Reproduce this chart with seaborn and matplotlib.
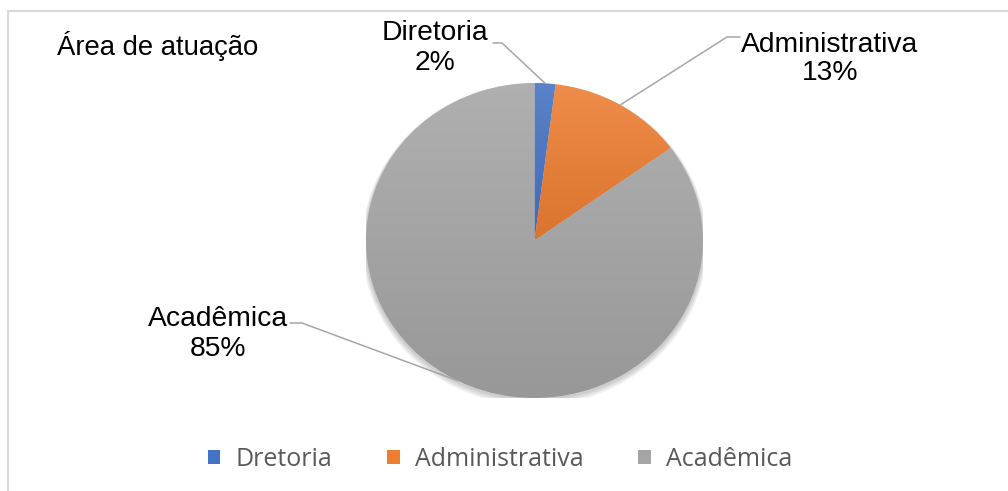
import numpy as np
import matplotlib
matplotlib.use("Agg")
import matplotlib.pyplot as plt
import seaborn as sns
from matplotlib.lines import Line2D
from matplotlib.patches import Patch, Ellipse
from matplotlib.colors import to_rgb

sns.set_theme(style="white")
plt.rcParams['font.family'] = ['Liberation Sans', 'DejaVu Sans']

# ---- data ----
title = "Área de atuação"
categories = ["Diretoria", "Administrativa", "Acadêmica"]
legend_labels = ["Dretoria", "Administrativa", "Acadêmica"]
values = [2, 13, 85]
colors = ["#4472C4", "#ED7D31", "#A5A5A5"]

W, H = 1008, 491
fig = plt.figure(figsize=(W / 100, H / 100), dpi=100)
fig.patch.set_facecolor("white")

# pie axes placed in pixel box
cx, cy, rx, ry = 534.5, 240.5, 168.5, 157.5
ax = fig.add_axes([(cx - rx) / W, (H - cy - ry) / H, 2 * rx / W, 2 * ry / H])

# soft shadow
for i, a in enumerate([0.05, 0.05, 0.05, 0.05]):
    s = 1.0 + 0.006 * (i + 1)
    ax.add_patch(Ellipse((0.0, -0.012 - 0.004 * i), 2 * s, 2 * s, facecolor="black",
                         edgecolor="none", alpha=a, zorder=0))

wedges, _ = ax.pie(values, colors=colors, startangle=90, counterclock=False,
                   radius=1.0, wedgeprops=dict(linewidth=0, edgecolor="none"))
ax.set_aspect("auto")
ax.set_xlim(-1, 1)
ax.set_ylim(-1, 1)
ax.axis("off")

# gradient fill per slice (lighter at top, darker at bottom)
for w, c in zip(wedges, colors):
    base = np.array(to_rgb(c))
    light = base + (1 - base) * 0.12
    dark = base * 0.92
    verts = w.get_path().vertices
    x0, y0 = verts.min(axis=0)
    x1, y1 = verts.max(axis=0)
    t = np.linspace(0, 1, 256)[:, None]
    grad = light[None, :] * (1 - t) + dark[None, :] * t
    img = ax.imshow(grad[:, None, :], extent=(x0, x1, y0, y1), origin="upper",
                    aspect="auto", zorder=2, interpolation="bilinear")
    img.set_clip_path(w)
    w.set_facecolor("none")
ax.set_xlim(-1, 1)
ax.set_ylim(-1, 1)

# frame lines
fig.add_artist(Line2D([8 / W, 1], [1 - 11 / H, 1 - 11 / H], color="#d9d9d9", lw=1.5,
                      transform=fig.transFigure))
fig.add_artist(Line2D([8 / W, 8 / W], [0, 1 - 11 / H], color="#d9d9d9", lw=1.5,
                      transform=fig.transFigure))

fig.text(57 / W, 1 - 46 / H, title, fontsize=19.8, ha="left", va="center", color="black")

# data labels with leader lines
fracs = np.array(values) / np.sum(values)
starts = 90 - 360 * np.concatenate([[0], np.cumsum(fracs)[:-1]])
mids = starts - 360 * fracs / 2

label_pos = [(435, 48), (830, 59), (218, 334)]      # label center (pixels from top)
elbows = [((493, 43), (502, 43)), ((740, 37), (727, 37)), ((290, 323), (302, 323))]
for cat, v, m, (lx, ly), (e1, e2) in zip(categories, values, mids, label_pos, elbows):
    fig.text(lx / W, 1 - ly / H, f"{cat}\n{v}%", fontsize=20.3, ha="center", va="center",
             linespacing=1.15, color="black")
    px, py = ax.transData.transform((np.cos(np.radians(m)), np.sin(np.radians(m))))
    xs = [e1[0], e2[0], px]
    ys = [H - e1[1], H - e2[1], py]
    fig.add_artist(Line2D(xs, ys, color="#a6a6a6", lw=1.1, transform=None, zorder=5))

handles = [Patch(facecolor=c, edgecolor="none") for c in colors]
leg = fig.legend(handles, legend_labels, loc="center", bbox_to_anchor=(500 / W, 1 - 459 / H),
                 ncol=3, frameon=False, handlelength=0.5, handleheight=0.5,
                 handletextpad=0.6, columnspacing=2.2,
                 prop={"family": "Open Sans", "size": 18})
for t in leg.get_texts():
    t.set_color("#595959")

fig.savefig("out.png", dpi=100, facecolor="white")
